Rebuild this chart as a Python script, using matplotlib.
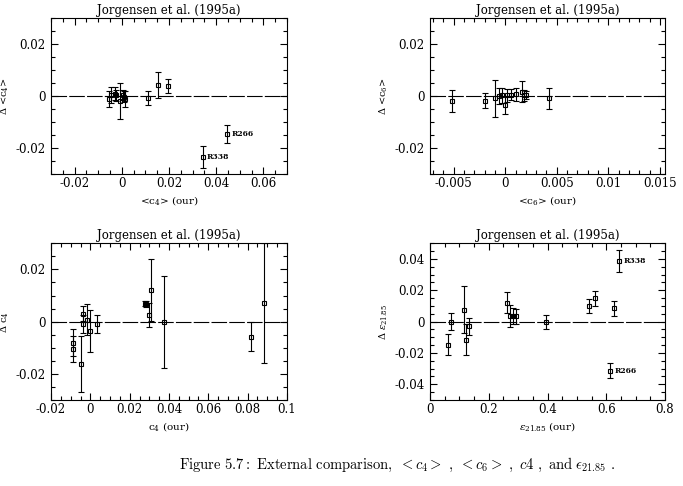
# external comparison with Jorgensen et al. (1995a), four panels

import numpy as np
import matplotlib.pyplot as plt
from matplotlib.ticker import MultipleLocator

plt.rcParams['font.family'] = 'DejaVu Serif'
plt.rcParams['mathtext.fontset'] = 'dejavuserif'

# <c4>
c4m_x = [-0.0055, -0.0045, -0.003, -0.0025, -0.0007, 0.0005, 0.001, 0.0015, 0.0112, 0.0153, 0.0197, 0.0342, 0.0446]
c4m_y = [-0.001, 0.0005, 0.001, 0.0003, -0.0018, 0.0005, -0.0002, -0.0012, -0.0008, 0.0043, 0.0039, -0.0234, -0.0146]
c4m_e = [0.003, 0.003, 0.0025, 0.002, 0.0069, 0.002, 0.002, 0.003, 0.0028, 0.005, 0.0026, 0.0042, 0.0035]
c4m_lab = {11: 'R338', 12: 'R266'}

# <c6>
c6m_x = [-0.0052, -0.002, -0.001, -0.0006, -0.0003, 0.0, 0.0002, 0.0006, 0.001, 0.0016, 0.0018, 0.002, 0.0042]
c6m_y = [-0.0018, -0.0017, -0.0008, 0.0, 0.0003, -0.0035, 0.0004, 0.0006, 0.0008, 0.0017, 0.0003, 0.0003, -0.0008]
c6m_e = [0.0042, 0.0028, 0.0072, 0.003, 0.003, 0.0035, 0.0025, 0.002, 0.0025, 0.004, 0.002, 0.0015, 0.004]

# c4
c4_x = [-0.009, -0.009, -0.0046, -0.0039, -0.0039, -0.0017, -0.0003, 0.0034, 0.0278, 0.0283, 0.0299, 0.0309, 0.0376, 0.0817, 0.0883]
c4_y = [-0.008, -0.0105, -0.0162, 0.0031, -0.0008, 0.0008, -0.0037, -0.001, 0.0069, 0.0068, 0.0024, 0.012, 0.0, -0.0058, 0.007]
c4_e = [0.005, 0.005, 0.0107, 0.003, 0.0035, 0.006, 0.0081, 0.0035, 0.001, 0.001, 0.0046, 0.0118, 0.0176, 0.0056, 0.023]

# eps21.85
eps_x = [0.062, 0.0726, 0.1146, 0.1225, 0.1328, 0.262, 0.272, 0.2813, 0.2915, 0.3948, 0.5425, 0.5617, 0.6253, 0.6139, 0.6446]
eps_y = [-0.0148, 0.0, 0.0077, -0.0116, -0.003, 0.0122, 0.0034, 0.0034, 0.0034, 0.0, 0.0099, 0.0148, 0.0084, -0.0314, 0.039]
eps_e = [0.0068, 0.0056, 0.0149, 0.01, 0.0054, 0.0065, 0.007, 0.005, 0.0048, 0.0045, 0.0043, 0.0047, 0.0048, 0.0048, 0.007]
eps_lab = {13: 'R266', 14: 'R338'}

W, H = 683, 486
fig = plt.figure(figsize=(W / 100, H / 100), dpi=100)


def panel(rect, x, y, e, xlim, ylim, xmaj, xmin, ymaj, ymin, xlabel, ylabel, labels={}):
    l, t, r, b = rect
    ax = fig.add_axes([l / W, 1 - b / H, (r - l) / W, (b - t) / H])
    ax.axhline(0, color='k', lw=0.8, ls=(0, (14, 2)), zorder=1)
    ax.errorbar(x, y, yerr=e, fmt='s', mfc='none', mec='k', ms=3.5, mew=0.8,
                ecolor='k', elinewidth=0.8, capsize=2.2, capthick=0.8, zorder=2)
    for i, s in labels.items():
        ax.annotate(s, (x[i], y[i]), xytext=(3, 0), textcoords='offset points',
                    fontsize=5.5, fontweight='bold', va='center')
    ax.set_xlim(xlim)
    ax.set_ylim(ylim)
    ax.xaxis.set_major_locator(MultipleLocator(xmaj))
    ax.xaxis.set_minor_locator(MultipleLocator(xmin))
    ax.yaxis.set_major_locator(MultipleLocator(ymaj))
    ax.yaxis.set_minor_locator(MultipleLocator(ymin))
    ax.xaxis.set_major_formatter(plt.FuncFormatter(lambda v, p: '%g' % round(v, 6)))
    ax.yaxis.set_major_formatter(plt.FuncFormatter(lambda v, p: '%g' % round(v, 6)))
    ax.tick_params(which='both', direction='in', top=True, right=True, labelsize=8.5, width=0.8)
    ax.tick_params(which='major', length=5)
    ax.tick_params(which='minor', length=2.8)
    ax.tick_params(axis='x', pad=2)
    ax.tick_params(axis='y', pad=4)
    for sp in ax.spines.values():
        sp.set_linewidth(0.8)
    ax.set_title('Jorgensen et al. (1995a)', fontsize=8.5, pad=3)
    ax.set_xlabel(xlabel, fontsize=7.5, labelpad=3)
    ax.set_ylabel(ylabel, fontsize=7, labelpad=3)
    return ax


panel((51, 18.3, 287, 174), c4m_x, c4m_y, c4m_e, (-0.03, 0.07), (-0.03, 0.03),
      0.02, 0.005, 0.02, 0.005, r'<c$_4$> (our)', r'$\Delta$ <c$_4$>', c4m_lab)
panel((430, 18.3, 665, 174), c6m_x, c6m_y, c6m_e, (-0.0073, 0.0155), (-0.03, 0.03),
      0.005, 0.001, 0.02, 0.005, r'<c$_6$> (our)', r'$\Delta$ <c$_6$>')
panel((51, 243.3, 287, 400), c4_x, c4_y, c4_e, (-0.02, 0.1), (-0.03, 0.03),
      0.02, 0.005, 0.02, 0.005, r'c$_4$ (our)', r'$\Delta$ c$_4$')
panel((430, 243.3, 665, 400), eps_x, eps_y, eps_e, (0, 0.8), (-0.05, 0.05),
      0.2, 0.05, 0.02, 0.005, r'$\epsilon_{21.85}$ (our)', r'$\Delta$ $\epsilon_{21.85}$', eps_lab)

fig.text(397 / W, 1 - 465 / H,
         r'$\mathrm{Figure\ 5.7{:}\ External\ comparison,}\ {<}c_4{>}\ ,\ {<}c_6{>}\ ,\ c4\ ,\ \mathrm{and}\ \epsilon_{21.85}\ .$',
         ha='center', va='center', fontsize=10.5, math_fontfamily='cm')

fig.savefig('out.png', dpi=100)
